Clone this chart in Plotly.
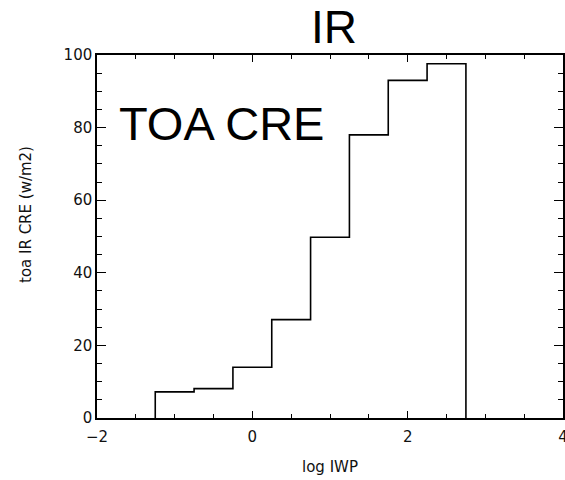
import plotly.graph_objects as go

# Data (bin centers of log IWP, TOA IR CRE)
bin_centers = [-1.0, -0.5, 0.0, 0.5, 1.0, 1.5, 2.0, 2.5]
cre_values = [7.2, 8.1, 14.0, 27.1, 49.8, 78.0, 93.0, 97.6]
bin_width = 0.5
x_tickvals = [-2, 0, 2, 4]
x_ticktext = ["\u22122", "0", "2", "4"]
y_tickvals = [0, 20, 40, 60, 80, 100]

# Build step outline from the data
edges = [c - bin_width / 2 for c in bin_centers]
step_x = [edges[0]] + edges + [bin_centers[-1] + bin_width / 2]
step_y = [0] + cre_values + [0]

fig = go.Figure()
fig.add_trace(go.Scatter(
    x=step_x, y=step_y, mode="lines", line_shape="hv",
    line=dict(color="black", width=1.6), showlegend=False, hoverinfo="skip"))

tick_font = dict(family="DejaVu Sans", size=15, color="#111")

W, H = 565, 480
ML, MR, MT, MB = 97, 2, 55, 62
plot_w = W - ML - MR
plot_h = H - MT - MB

def px_to_paper(px, py):
    return (px - ML) / plot_w, ((H - py) - MB) / plot_h

ir_x, ir_y = px_to_paper(334, 27)
yl_x, yl_y = px_to_paper(26, 215)
xl_x, xl_y = px_to_paper(330, 467)

fig.update_layout(
    width=W, height=H,
    margin=dict(l=ML, r=MR, t=MT, b=MB, autoexpand=False),
    paper_bgcolor="white", plot_bgcolor="white",
    showlegend=False,
    xaxis=dict(range=[-2, 4], tickvals=x_tickvals, ticktext=x_ticktext, automargin=False,
               showgrid=False, zeroline=False, showline=True, linecolor="black", linewidth=1.5,
               mirror="ticks", ticks="inside", ticklen=7, tickwidth=1.2, tickcolor="black",
               tickfont=tick_font, ticklabelstandoff=4, ticklabeloverflow="allow",
               minor=dict(dtick=0.5, tick0=0, ticks="inside", ticklen=4, tickwidth=1.2,
                          tickcolor="black", showgrid=False)),
    yaxis=dict(range=[0, 100], tickvals=y_tickvals, ticksuffix=" ", automargin=False,
               showgrid=False, zeroline=False, showline=True, linecolor="black", linewidth=1.5,
               mirror="ticks", ticks="inside", ticklen=9, tickwidth=1.2, tickcolor="black",
               tickfont=tick_font,
               minor=dict(dtick=5, tick0=0, ticks="inside", ticklen=5, tickwidth=1.2,
                          tickcolor="black", showgrid=False)),
    annotations=[
        dict(text="IR", x=ir_x, y=ir_y, xref="paper", yref="paper", showarrow=False,
             font=dict(family="Liberation Sans", size=46, color="black"),
             xanchor="center", yanchor="middle"),
        dict(text="TOA CRE", x=-1.74, y=81, xref="x", yref="y", showarrow=False,
             font=dict(family="Liberation Sans", size=47, color="black"),
             xanchor="left", yanchor="middle"),
        dict(text="log IWP", x=xl_x, y=xl_y, xref="paper", yref="paper", showarrow=False,
             font=dict(family="DejaVu Sans", size=15, color="#111"),
             xanchor="center", yanchor="middle"),
        dict(text="toa IR CRE (w/m2)", x=yl_x, y=yl_y, xref="paper", yref="paper",
             showarrow=False, textangle=-90,
             font=dict(family="DejaVu Sans", size=15, color="#111"),
             xanchor="center", yanchor="middle"),
    ],
)

fig.write_html("out.html", config={"displayModeBar": False},
               post_script="document.body.style.margin='0';")
